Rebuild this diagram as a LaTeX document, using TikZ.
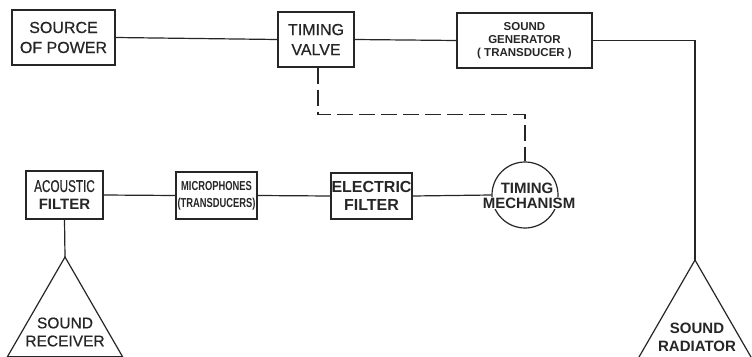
\documentclass[tikz,border=0pt]{standalone}
\usepackage{fontspec}
\setmainfont{Liberation Sans}
\newfontfamily\medfont[FakeBold=0.6]{Liberation Sans}
\newfontfamily\condfont[FakeStretch=0.72]{Liberation Sans}
\newfontfamily\condfontA[FakeStretch=0.69,FakeBold=0.4]{Liberation Sans}
\definecolor{ln}{HTML}{262626}
\begin{document}
\begin{tikzpicture}[x=1pt,y=-1pt,
  blk/.style={draw=ln, line width=1.3pt, align=center, inner sep=0pt, text=ln},
  conn/.style={draw=ln, line width=1.2pt},
  lbl/.style={align=center, inner sep=0pt, text=ln}]
\fill[white] (0,0) rectangle (752,356);
\useasboundingbox (0,0) rectangle (752,356);
% boxes
\node[blk, minimum width=103pt, minimum height=55pt, font=\medfont\fontsize{16}{20}\selectfont] (src) at (63.5,37.5) {SOURCE\\OF POWER};
\node[blk, minimum width=76pt, minimum height=55pt, font=\medfont\fontsize{16}{20}\selectfont] (valve) at (316,39.5) {TIMING\\VALVE};
\node[blk, minimum width=135pt, minimum height=55pt, font=\bfseries\fontsize{11.5}{13}\selectfont] (gen) at (524.5,40.5) {SOUND\\GENERATOR\\( TRANSDUCER )};
\node[blk, minimum width=77pt, minimum height=48pt, font=\fontsize{17}{18}\selectfont] (acf) at (64.5,195) {{\condfontA ACOUSTIC}\\{\bfseries\fontsize{15}{18}\selectfont FILTER}};
\node[blk, minimum width=81pt, minimum height=47pt, font=\condfont\bfseries\fontsize{13}{17}\selectfont] (mic) at (216.5,195.5) {MICROPHONES\\(TRANSDUCERS)};
\node[blk, minimum width=81pt, minimum height=46pt, font=\bfseries\fontsize{16}{18}\selectfont] (elf) at (371.5,196) {ELECTRIC\\FILTER};
% timing mechanism
\node[draw=ln, line width=1.2pt, circle, minimum size=66pt, inner sep=0pt] (tmech) at (525,195) {};
\node[lbl, anchor=base, font=\bfseries\fontsize{15}{15}\selectfont] (tm1) at (527,193) {TIMING};
\node[lbl, anchor=base, fill=white, inner sep=1pt, font=\bfseries\fontsize{15}{15}\selectfont] (tm2) at (529,208) {MECHANISM};
% triangles
\coordinate (rcvtop) at (65,257);
\draw[conn, line join=miter] (rcvtop) -- ++(-57.5,99.6) -- ++(115,0) -- cycle;
\node[lbl, font=\medfont\fontsize{15.5}{18}\selectfont] (rcvtxt) at (65,332) {SOUND\\RECEIVER};
\coordinate (radtop) at (695,260);
\draw[conn, line join=miter] (radtop) -- ++(-56.5,97.9) -- ++(113,0) -- cycle;
\node[lbl, font=\bfseries\fontsize{15}{18}\selectfont] (radtxt) at (697,337) {SOUND\\RADIATOR};
% connectors
\draw[conn] (src.east) -- (valve.west);
\draw[conn] (valve.east) -- (gen.west);
\draw[conn] (gen.east) -| (radtop);
\draw[conn] (acf.east) -- (mic.west);
\draw[conn] (mic.east) -- (elf.west);
\draw[conn] (elf.east) -- (tmech.west);
\draw[conn] (acf.south) -- (rcvtop);
\draw[conn, dash pattern=on 16pt off 6pt] ([xshift=2pt]valve.south) -- ++(0,47) -| (tmech.north);
\end{tikzpicture}
\end{document}
